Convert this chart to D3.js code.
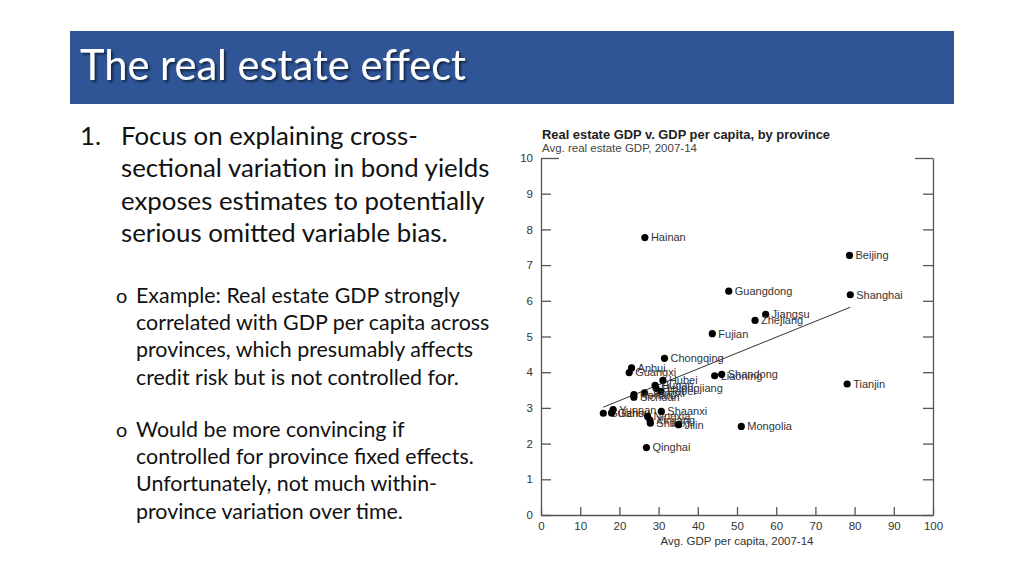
<!DOCTYPE html>
<html>
<head>
<meta charset="utf-8">
<script src="https://cdn.jsdelivr.net/npm/d3@7"></script>
<style>
  body { margin: 0; background: white; }
  svg { display: block; }
</style>
</head>
<body>
<div id="viz"></div>
<script>
// slide text
const slideTitle = "The real estate effect";
const mainPoint = [
    "Focus on explaining cross-",
    "sectional variation in bond yields",
    "exposes estimates to potentially",
    "serious omitted variable bias."
];
const subPoints = [
    ["Example: Real estate GDP strongly",
     "correlated with GDP per capita across",
     "provinces, which presumably affects",
     "credit risk but is not controlled for."],
    ["Would be more convincing if",
     "controlled for province fixed effects.",
     "Unfortunately, not much within-",
     "province variation over time."]
];

// chart data
const chartTitle = "Real estate GDP v. GDP per capita, by province";
const chartSubtitle = "Avg. real estate GDP, 2007-14";
const xTitle = "Avg. GDP per capita, 2007-14";
const provinces = ["Hainan", "Beijing", "Guangdong", "Shanghai", "Jiangsu", "Zhejiang", "Fujian",
    "Chongqing", "Anhui", "Guangxi", "Hubei", "Liaoning", "Shandong", "Tianjin",
    "Hunan", "Heilongjiang", "Hebei", "Jiangxi", "Henan", "Sichuan",
    "Guizhou", "Gansu", "Yunnan", "Ningxia", "Xinjiang", "Shanxi", "Shaanxi",
    "Jilin", "Mongolia", "Qinghai"];
const gdpPerCapita = [26.5, 78.7, 47.9, 78.9, 57.3, 54.6, 43.7,
    31.5, 23.1, 22.5, 31.1, 44.3, 46.1, 78.1,
    29.1, 29.4, 30.6, 26.4, 23.7, 23.7,
    15.9, 18.0, 18.4, 27.2, 27.8, 27.9, 30.7,
    35.1, 51.1, 26.9];
const realEstateGdp = [7.77, 7.27, 6.27, 6.17, 5.62, 5.45, 5.08,
    4.39, 4.12, 3.99, 3.77, 3.90, 3.94, 3.67,
    3.63, 3.54, 3.46, 3.42, 3.37, 3.30,
    2.85, 2.86, 2.95, 2.76, 2.65, 2.57, 2.90,
    2.53, 2.48, 1.89];
// fitted line ends
const trendX = [15.9, 78.9];
const trendY = [3.02, 5.82];
const xTicks = [0, 10, 20, 30, 40, 50, 60, 70, 80, 90, 100];
const yTicks = [0, 1, 2, 3, 4, 5, 6, 7, 8, 9, 10];

const width = 1024, height = 576;
const svg = d3.select("#viz").append("svg")
    .attr("width", width)
    .attr("height", height)
    .style("background", "white");

const defs = svg.append("defs");
const shadow = defs.append("filter").attr("id", "shadow")
    .attr("x", "-5%").attr("y", "-20%").attr("width", "115%").attr("height", "150%");
shadow.append("feDropShadow")
    .attr("dx", 2).attr("dy", 2).attr("stdDeviation", 1.2)
    .attr("flood-color", "#000").attr("flood-opacity", 0.55);

// title bar
svg.append("rect")
    .attr("x", 70).attr("y", 31)
    .attr("width", 884).attr("height", 73)
    .attr("fill", "#2f5597");
svg.append("text")
    .attr("x", 80).attr("y", 80)
    .attr("font-family", "Lato, 'Open Sans', sans-serif")
    .attr("font-size", 43)
    .attr("fill", "white")
    .attr("filter", "url(#shadow)")
    .attr("textLength", 386)
    .attr("lengthAdjust", "spacingAndGlyphs")
    .text(slideTitle);

// body text
const bodyFont = "Lato, 'Open Sans', sans-serif";
const body = svg.append("g").attr("font-family", bodyFont).attr("fill", "#111");
body.append("text").attr("x", 80).attr("y", 145).attr("font-size", 25.8).text("1.");
body.selectAll(".main").data(mainPoint).enter().append("text")
    .attr("class", "main")
    .attr("x", 121)
    .attr("y", (d, i) => 145 + i * 32.3)
    .attr("font-size", 25.8)
    .text(d => d);

subPoints.forEach((lines, k) => {
    const top = 303 + k * 134;
    body.append("text").attr("x", 116).attr("y", top).attr("font-size", 20).text("o");
    body.selectAll(".sub" + k).data(lines).enter().append("text")
        .attr("class", "sub" + k)
        .attr("x", 136)
        .attr("y", (d, i) => top + i * 27.2)
        .attr("font-size", 21.4)
        .text(d => d);
});

// scatter chart
const x = d3.scaleLinear().domain([0, 100]).range([541, 933]);
const y = d3.scaleLinear().domain([0, 10]).range([515, 158]);
const chartFont = "'Liberation Sans', Arial, sans-serif";
const axisColor = "#555";

const chart = svg.append("g").attr("font-family", chartFont);

chart.append("text")
    .attr("x", 542).attr("y", 139)
    .attr("font-size", 12.9).attr("font-weight", "bold").attr("fill", "#222")
    .text(chartTitle);
chart.append("text")
    .attr("x", 542).attr("y", 152)
    .attr("font-size", 11.5).attr("fill", "#444")
    .text(chartSubtitle);

const yAxis = chart.append("g")
    .attr("transform", `translate(${x(0)},0)`)
    .call(d3.axisLeft(y).tickValues(yTicks).tickSizeInner(-10).tickSizeOuter(0).tickPadding(8));
const yAxisR = chart.append("g")
    .attr("transform", `translate(${x(100)},0)`)
    .call(d3.axisRight(y).tickValues(yTicks).tickSizeInner(-10).tickSizeOuter(0).tickFormat(""));
const xAxis = chart.append("g")
    .attr("transform", `translate(0,${y(0)})`)
    .call(d3.axisBottom(x).tickValues(xTicks).tickSizeInner(-8).tickSizeOuter(0).tickPadding(4));

[yAxis, yAxisR, xAxis].forEach(g => {
    g.selectAll("path, line").attr("stroke", axisColor).attr("stroke-width", 1.3);
    g.selectAll("text").attr("font-family", chartFont).attr("font-size", 11.5).attr("fill", "#333");
});
// longer ticks at the top of the frame
yAxis.selectAll(".tick").filter(d => d === 10).select("line").attr("x2", 18);
yAxisR.selectAll(".tick").filter(d => d === 10).select("line").attr("x2", -18);
xAxis.selectAll(".tick text").attr("dy", "0.95em");

chart.append("text")
    .attr("x", x(50)).attr("y", 545)
    .attr("text-anchor", "middle")
    .attr("font-size", 11.5).attr("fill", "#333")
    .text(xTitle);

// fitted line
chart.append("line")
    .attr("x1", x(trendX[0])).attr("y1", y(trendY[0]))
    .attr("x2", x(trendX[1])).attr("y2", y(trendY[1]))
    .attr("stroke", "#333").attr("stroke-width", 1);

const points = provinces.map((p, i) => ({ name: p, gx: gdpPerCapita[i], re: realEstateGdp[i] }));

const pt = chart.append("g").selectAll("g")
    .data(points)
    .enter().append("g")
    .attr("transform", d => `translate(${x(d.gx)},${y(d.re)})`);
pt.append("circle").attr("r", 3.6).attr("fill", "#000");
pt.append("text")
    .attr("x", 6)
    .attr("dy", "0.35em")
    .attr("font-size", 11)
    .attr("fill", "#333")
    .text(d => d.name);
</script>
</body>
</html>
